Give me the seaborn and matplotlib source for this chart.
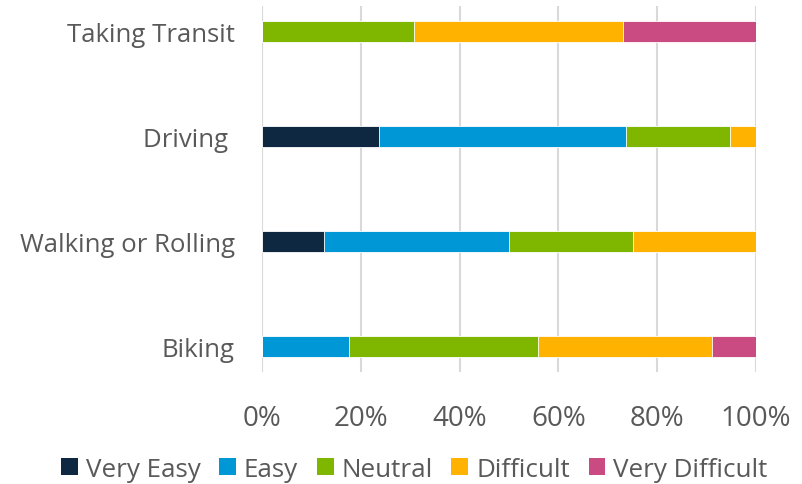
import matplotlib
matplotlib.use("Agg")
import matplotlib.pyplot as plt
from matplotlib.ticker import FuncFormatter
from matplotlib.patches import Patch
import seaborn as sns
import pandas as pd
import numpy as np

modes = ["Taking Transit", "Driving ", "Walking or Rolling", "Biking"]
levels = ["Very Easy", "Easy", "Neutral", "Difficult", "Very Difficult"]
very_easy = [0.0, 23.7, 12.5, 0.0]
easy = [0.0, 50.0, 37.5, 17.6]
neutral = [30.8, 21.0, 25.0, 38.2]
difficult = [42.3, 5.3, 25.0, 35.3]
very_difficult = [26.9, 0.0, 0.0, 8.9]
colors = ["#0E2841", "#0097D7", "#7FB700", "#FFB300", "#CA4A82"]

sns.set_theme(style="white")
plt.rcParams["font.family"] = ["Open Sans", "DejaVu Sans"]
text_color = "#595959"

shares = np.array([very_easy, easy, neutral, difficult, very_difficult])
cumulative = np.cumsum(shares, axis=0)

fig = plt.figure(figsize=(8.03, 4.85), dpi=100)
ax = fig.add_axes([0.3263, 0.2309, 0.6152, 0.7547])

# Stacked bars: draw running totals from the outermost segment inward
for i in range(len(levels) - 1, -1, -1):
    df = pd.DataFrame({"mode": modes, "value": cumulative[i] / 100.0})
    sns.barplot(data=df, x="value", y="mode", order=modes, color=colors[i],
                width=0.2, orient="h", ax=ax, saturation=1,
                edgecolor="white", linewidth=0.6, zorder=3)

ax.set_xlim(0, 1)
ax.set_ylim(3.24, -0.24)
ax.set_xticks(np.linspace(0, 1, 6))
ax.xaxis.set_major_formatter(FuncFormatter(lambda v, p: f"{v*100:.0f}%"))
ax.grid(axis="x", color="#D9D9D9", linewidth=1.5, zorder=0)
ax.grid(axis="y", visible=False)
for s in ax.spines.values():
    s.set_visible(False)
ax.set_xlabel("")
ax.set_ylabel("")
ax.tick_params(axis="x", labelsize=20, colors=text_color, length=0, pad=23)
ax.tick_params(axis="y", labelsize=18.5, colors=text_color, length=0, pad=19.5)

handles = [Patch(facecolor=c, edgecolor="none") for c in colors]
fig.legend(handles, levels, loc="center", bbox_to_anchor=(0.516, 0.03), ncol=5,
           frameon=False, fontsize=18.7, handlelength=0.65, handleheight=0.65,
           handletextpad=0.3, columnspacing=0.72, labelcolor=text_color)

fig.savefig("out.png", dpi=100)
